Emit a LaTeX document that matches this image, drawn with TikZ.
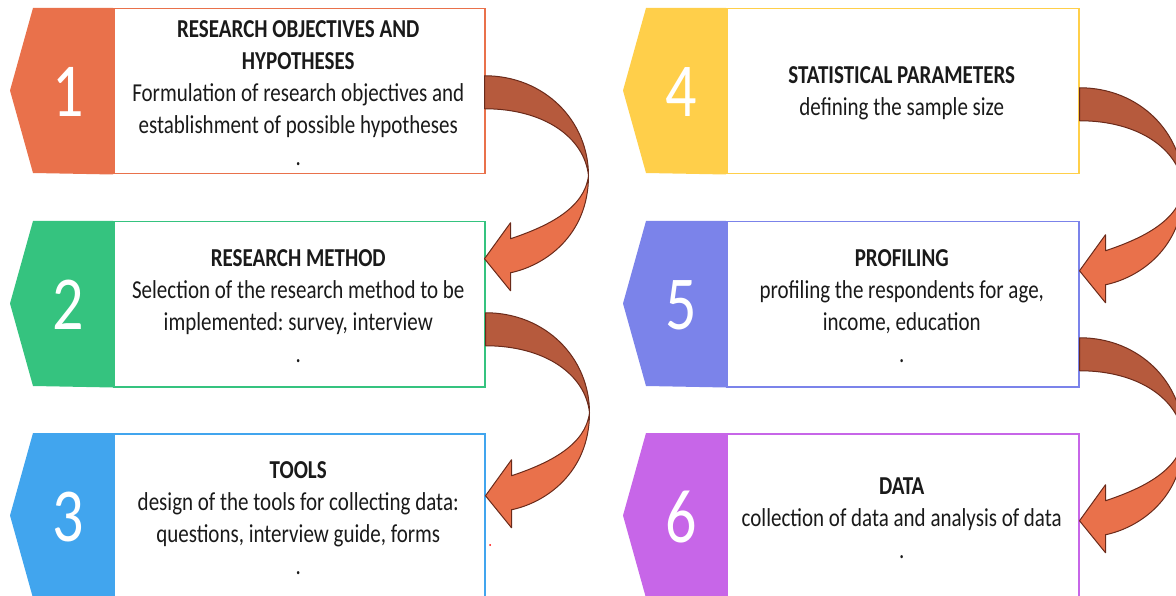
\documentclass[tikz,border=0pt]{standalone}
\usepackage{fontspec}
\setmainfont{Carlito}
\usetikzlibrary{calc}
\frenchspacing
\definecolor{cone}{HTML}{E9714B}
\definecolor{ctwo}{HTML}{35C37F}
\definecolor{cthree}{HTML}{41A5EE}
\definecolor{cfour}{HTML}{FFCF4A}
\definecolor{cfive}{HTML}{7B83EA}
\definecolor{csix}{HTML}{C766E8}
\definecolor{arrowdark}{HTML}{B65A3D}
\definecolor{arrowlight}{HTML}{E9714B}
\definecolor{arrowline}{HTML}{6A2A1A}
\definecolor{txt}{HTML}{1A1A1A}
\tikzset{
  stepframe/.style={draw=#1, line width=1.5pt, fill=white, anchor=north west, minimum height=165pt, inner sep=0pt},
  steptext/.style={text=txt, align=center, yscale=1.23, font=\fontsize{21}{26}\selectfont},
  digit/.style={text=white, yscale=1.23, font=\fontsize{62}{62}\selectfont},
  arrowedge/.style={draw=arrowline, line width=1pt, line join=round},
  pics/bentarrow/.style={code={
    % upper (dark) half of the band
    \filldraw[arrowedge, fill=arrowdark] (0,0) .. controls (60,0) and (104,45) .. (104,100)
      .. controls (100,62) and (60,33) .. (0,33) -- cycle;
    % lower (light) half with the head
    \filldraw[arrowedge, fill=arrowlight] (104,100) .. controls (104,160) and (60,190) .. (26,197)
      -- (26,215) -- (0,183) -- (26,147) -- (26,163) .. controls (65,150) and (100,132) .. (104,100) -- cycle;
  }}
}
\newcommand{\badge}[2]{\fill[#2] (#1.north west) -- ++(-80,0) -- ++(-23,82.5) -- ++(23,82.5) -- (#1.south west) -- cycle;}
\begin{document}
\begin{tikzpicture}[x=1pt, y=-1pt]
\useasboundingbox (0,0) rectangle (1176,596);
\clip (0,0) rectangle (1176,596);
% left column
\node[stepframe=cone, minimum width=371pt] (f1) at (113,8) {};
\node[stepframe=ctwo, minimum width=371pt] (f2) at (113,221) {};
\node[stepframe=cthree, minimum width=371pt] (f3) at (113,433) {};
\badge{f1}{cone}
\badge{f2}{ctwo}
\badge{f3}{cthree}
% right column
\node[stepframe=cfour, minimum width=352pt] (f4) at (726,8) {};
\node[stepframe=cfive, minimum width=352pt] (f5) at (726,221) {};
\node[stepframe=csix, minimum width=352pt] (f6) at (726,433) {};
\badge{f4}{cfour}
\badge{f5}{cfive}
\badge{f6}{csix}
% numbers
\foreach \i in {1,...,6}
  \node[digit] (n\i) at ($(f\i.west)+(-45,1)$) {\i};
% texts
\node[steptext] (t1) at ($(f1.center)+(-1,2)$) {\textbf{RESEARCH OBJECTIVES AND}\\\textbf{HYPOTHESES}\\Formulation of research objectives and\\establishment of possible hypotheses\\.};
\node[steptext] (t2) at ($(f2.center)+(-1,2)$) {\textbf{RESEARCH METHOD}\\Selection of the research method to be\\implemented: survey, interview\\.};
\node[steptext] (t3) at ($(f3.center)+(-1,2)$) {\textbf{TOOLS}\\design of the tools for collecting data:\\questions, interview guide, forms\\.};
\node[steptext] (t4) at ($(f4.center)+(-1,2)$) {\textbf{STATISTICAL PARAMETERS}\\defining the sample size};
\node[steptext] (t5) at ($(f5.center)+(-1,2)$) {\textbf{PROFILING}\\profiling the respondents for age,\\income, education\\.};
\node[steptext] (t6) at ($(f6.center)+(-1,2)$) {\textbf{DATA}\\collection of data and analysis of data\\.};
% curved arrows
\pic at ($(f1.east)+(-1,-15.5)$) {bentarrow};
\pic at ($(f2.east)+(0,8.5)$) {bentarrow};
\pic at ($(f4.east)+(0,-3.5)$) {bentarrow};
\pic at ($(f5.east)+(0,33.5)$) {bentarrow};
\fill[red] (490,545) circle (1);
\end{tikzpicture}
\end{document}
